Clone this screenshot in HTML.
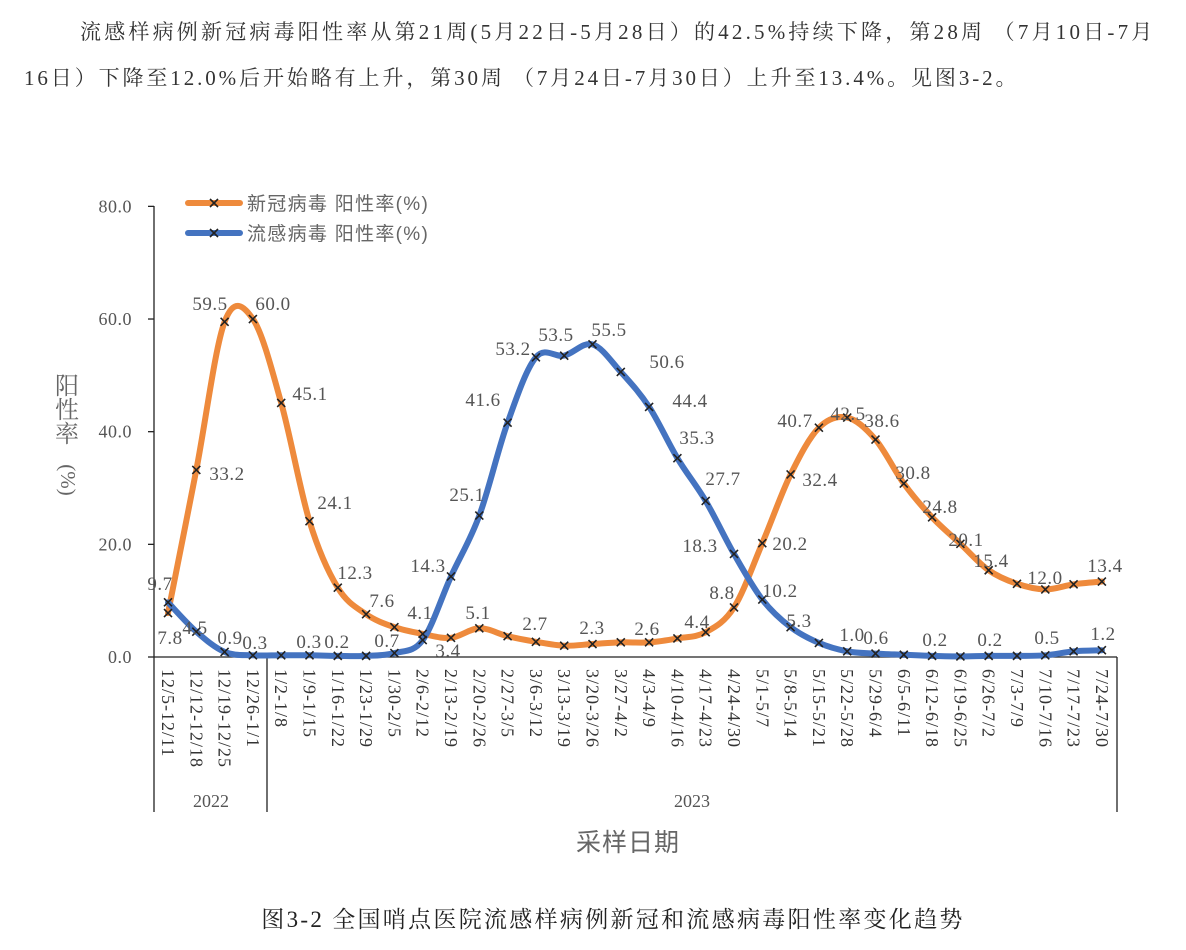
<!DOCTYPE html>
<html><head><meta charset="utf-8"><style>
body{margin:0;background:#fff;width:1186px;height:950px;overflow:hidden;position:relative;font-family:"Liberation Serif","Noto Serif CJK SC",serif;color:#333}
.p{position:absolute;font-size:21px;white-space:nowrap;letter-spacing:2.6px}
</style></head><body>
<div class="p" style="left:80px;top:16px;letter-spacing:3.2px">流感样病例新冠病毒阳性率从第21周(5月22日-5月28日）的42.5%持续下降，第28周 （7月10日-7月</div>
<div class="p" style="left:24px;top:62px;letter-spacing:2.9px">16日）下降至12.0%后开始略有上升，第30周 （7月24日-7月30日）上升至13.4%。见图3-2。</div>
<div class="p" style="left:20px;width:1186px;text-align:center;top:901px;font-size:23px;letter-spacing:2.3px;color:#222">图3-2 全国哨点医院流感样病例新冠和流感病毒阳性率变化趋势</div>
<svg id="s" width="1186" height="950" style="position:absolute;left:0;top:0"></svg>
<script>
const s=document.getElementById('s');let h='';
const X=i=>168+28.3*i, Y=v=>657-5.633*v;
const cov=[7.8,33.2,59.5,60.0,45.1,24.1,12.3,7.6,5.3,4.1,3.4,5.1,3.7,2.7,2.0,2.3,2.6,2.6,3.3,4.4,8.8,20.2,32.4,40.7,42.5,38.6,30.8,24.8,20.1,15.4,13.0,12.0,12.9,13.4];
const flu=[9.7,4.5,0.9,0.3,0.3,0.3,0.2,0.2,0.7,3.0,14.3,25.1,41.6,53.2,53.5,55.5,50.6,44.4,35.3,27.7,18.3,10.2,5.3,2.5,1.0,0.6,0.4,0.2,0.1,0.2,0.2,0.3,1.0,1.2];
function path(d){let p=d.map((v,i)=>[X(i),Y(v)]);let str=`M${p[0][0]},${p[0][1]}`;
for(let i=0;i<p.length-1;i++){const p0=p[i-1]||p[i],p1=p[i],p2=p[i+1],p3=p[i+2]||p2;
str+=` C${p1[0]+(p2[0]-p0[0])/6},${p1[1]+(p2[1]-p0[1])/6} ${p2[0]-(p3[0]-p1[0])/6},${p2[1]-(p3[1]-p1[1])/6} ${p2[0]},${p2[1]}`;}return str;}
h+=`<g stroke="#222" stroke-width="1.3" fill="none"><line x1="154" y1="206" x2="154" y2="812"/><line x1="154" y1="657" x2="1117" y2="657"/>
<line x1="267" y1="657" x2="267" y2="812"/><line x1="1117" y1="657" x2="1117" y2="812"/>`;
[0,20,40,60,80].forEach(v=>h+=`<line x1="148" y1="${Y(v)}" x2="154" y2="${Y(v)}"/>`);h+='</g>';
[0,20,40,60,80].forEach(v=>h+=`<text x="132" y="${Y(v)+6}" text-anchor="end" font-size="18" letter-spacing="0.5" fill="#555">${v.toFixed(1)}</text>`);
h+=`<g font-size="24" fill="#666" text-anchor="middle"><text x="67" y="394">阳</text><text x="67" y="418">性</text><text x="67" y="442">率</text><text transform="translate(61,480) rotate(90)" font-size="21" text-anchor="middle">(%)</text></g>`;
const cats=["12/5-12/11","12/12-12/18","12/19-12/25","12/26-1/1","1/2-1/8","1/9-1/15","1/16-1/22","1/23-1/29","1/30-2/5","2/6-2/12","2/13-2/19","2/20-2/26","2/27-3/5","3/6-3/12","3/13-3/19","3/20-3/26","3/27-4/2","4/3-4/9","4/10-4/16","4/17-4/23","4/24-4/30","5/1-5/7","5/8-5/14","5/15-5/21","5/22-5/28","5/29-6/4","6/5-6/11","6/12-6/18","6/19-6/25","6/26-7/2","7/3-7/9","7/10-7/16","7/17-7/23","7/24-7/30"];
cats.forEach((c,i)=>h+=`<text transform="translate(${X(i)-6},669) rotate(90)" font-size="18" letter-spacing="1" fill="#333">${c}</text>`);
h+=`<text x="211" y="807" text-anchor="middle" font-size="18" fill="#555">2022</text><text x="692" y="807" text-anchor="middle" font-size="18" fill="#555">2023</text>`;
h+=`<text x="628" y="851" text-anchor="middle" font-size="25" letter-spacing="1" fill="#666" font-family="Liberation Sans,Noto Sans CJK SC,sans-serif">采样日期</text>`;
h+=`<path d="${path(cov)}" stroke="#ee8a3c" stroke-width="6" fill="none" stroke-linecap="round"/>`;
h+=`<path d="${path(flu)}" stroke="#4473c0" stroke-width="6" fill="none" stroke-linecap="round"/>`;
function mk(x,y){return `<path d="M${x-4},${y-4}L${x+4},${y+4}M${x-4},${y+4}L${x+4},${y-4}" stroke="#222" stroke-width="1.6"/>`;}
cov.forEach((v,i)=>h+=mk(X(i),Y(v)));flu.forEach((v,i)=>h+=mk(X(i),Y(v)));
h+=`<line x1="188" y1="203" x2="240" y2="203" stroke="#ee8a3c" stroke-width="6" stroke-linecap="round"/>${mk(214,203)}
<line x1="188" y1="233" x2="240" y2="233" stroke="#4473c0" stroke-width="6" stroke-linecap="round"/>${mk(214,233)}
<text x="247" y="210" font-size="19" letter-spacing="1.3" fill="#666" font-family="Liberation Sans,Noto Sans CJK SC,sans-serif">新冠病毒 阳性率(%)</text>
<text x="247" y="240" font-size="19" letter-spacing="1.3" fill="#666" font-family="Liberation Sans,Noto Sans CJK SC,sans-serif">流感病毒 阳性率(%)</text>`;
const L=[["7.8",170,637],["9.7",160,583],["33.2",227,473],["59.5",210,303],["60.0",273,303],["45.1",310,393],["24.1",335,502],["12.3",355,572],["7.6",382,600],["4.1",420,612],["3.4",448,650],["5.1",478,612],["2.7",535,623],["2.3",592,627],["2.6",647,628],["4.4",697,621],["8.8",722,592],["20.2",790,543],["32.4",820,479],["40.7",795,420],["42.5",848,413],["38.6",882,420],["30.8",913,472],["24.8",940,506],["20.1",966,539],["15.4",991,560],["12.0",1045,577],["13.4",1105,565],
["4.5",195,627],["0.9",230,637],["0.3",255,642],["0.3",309,641],["0.2",337,641],["0.7",387,640],["14.3",428,565],["25.1",467,494],["41.6",483,399],["53.2",513,348],["53.5",556,334],["55.5",609,329],["50.6",667,361],["44.4",690,400],["35.3",697,437],["27.7",723,478],["18.3",700,545],["10.2",780,590],["5.3",799,620],["1.0",852,634],["0.6",876,637],["0.2",935,639],["0.2",990,639],["0.5",1047,637],["1.2",1103,633]];
L.forEach(l=>h+=`<text x="${l[1]}" y="${l[2]+7}" text-anchor="middle" font-size="19" letter-spacing="0.5" fill="#555">${l[0]}</text>`);
s.innerHTML=h;
</script>
</body></html>
